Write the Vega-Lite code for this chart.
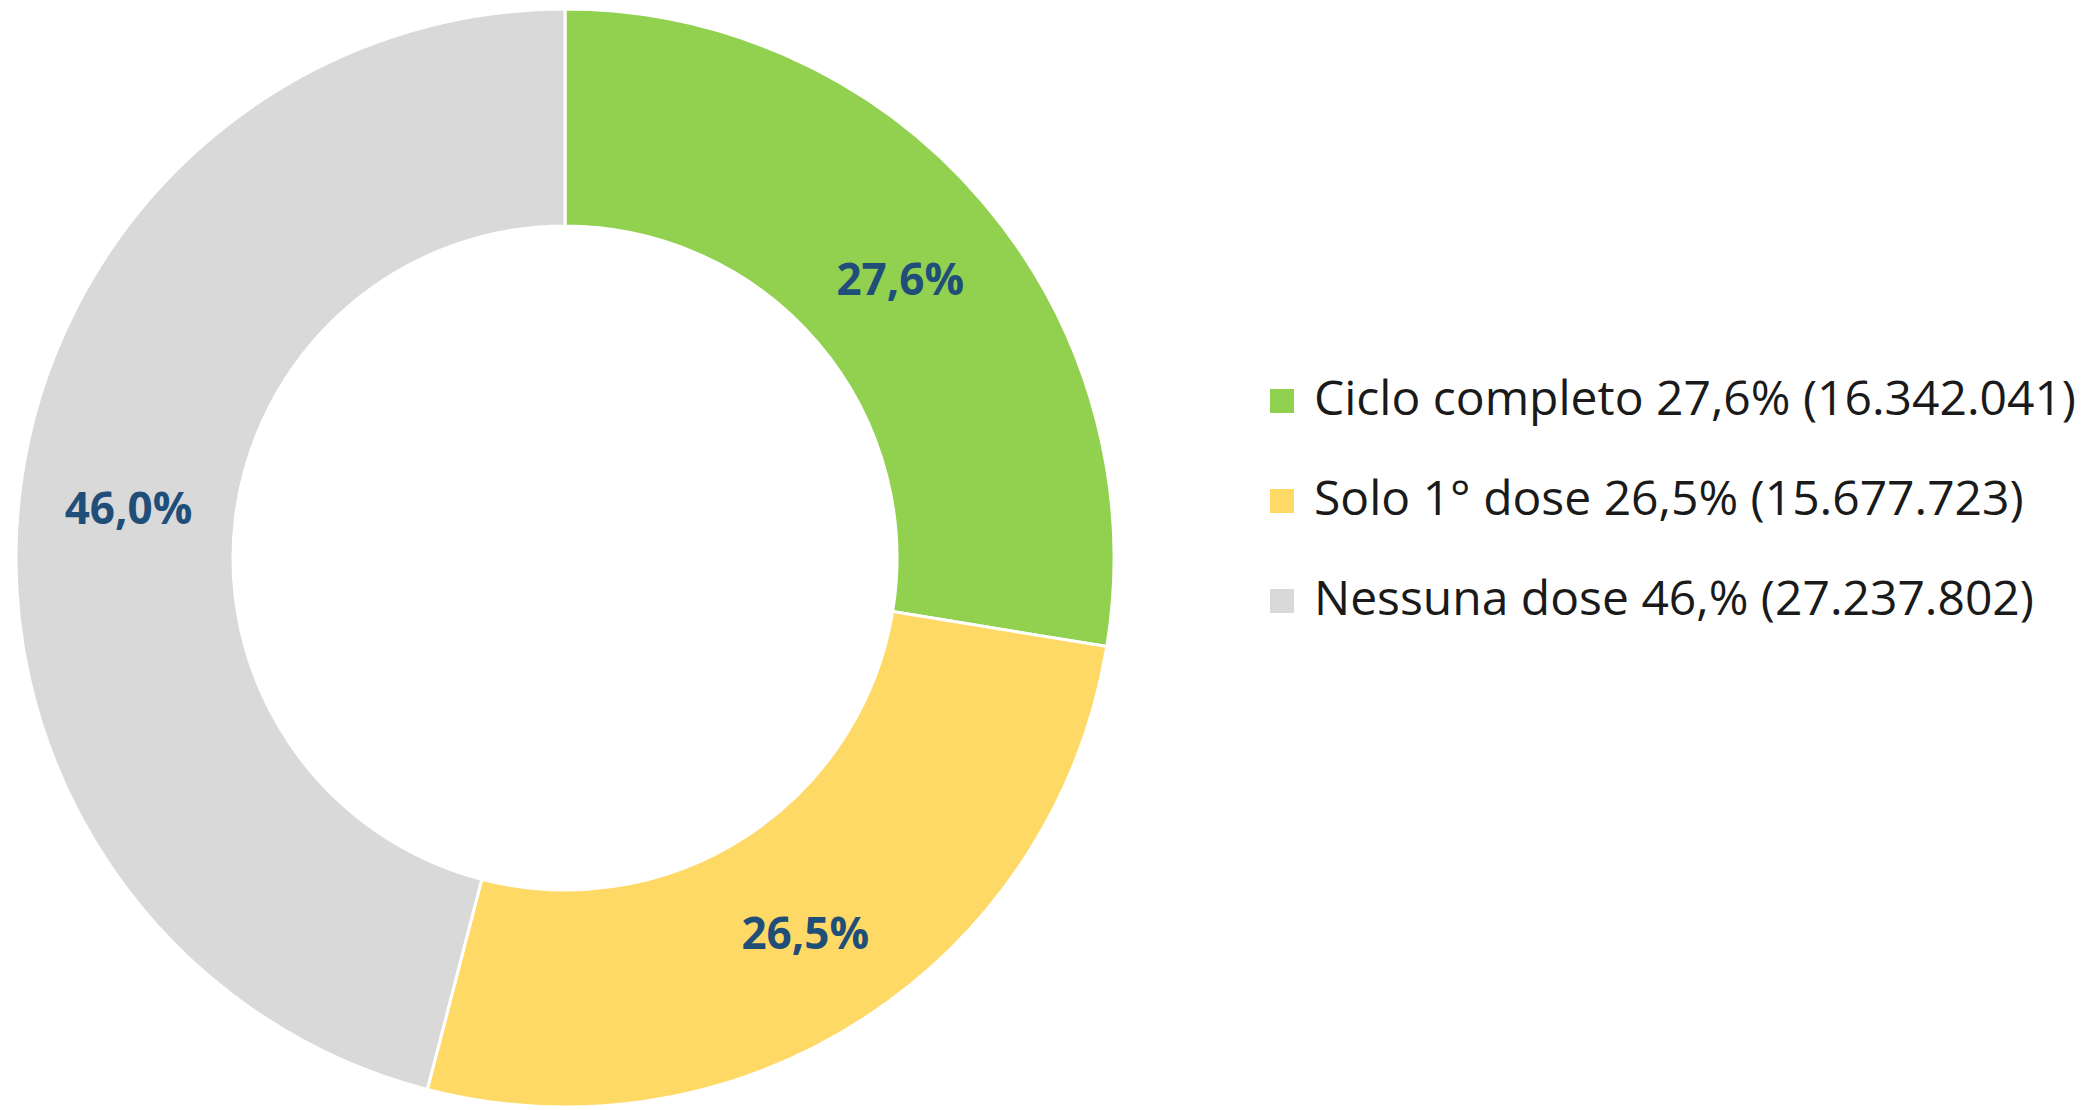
{
  "$schema": "https://vega.github.io/schema/vega-lite/v6.json",
  "width": 1130,
  "height": 1116,
  "autosize": {"type": "pad"},
  "padding": 0,
  "background": "white",
  "view": {"stroke": null},
  "data": {"values": [
    {"cat": "Ciclo completo 27,6% (16.342.041)", "value": 16342041, "ord": 1, "label": "27,6%"},
    {"cat": "Solo 1° dose 26,5% (15.677.723)", "value": 15677723, "ord": 2, "label": "26,5%"},
    {"cat": "Nessuna dose 46,% (27.237.802)", "value": 27237802, "ord": 3, "label": "46,0%"}
  ]},
  "encoding": {
    "theta": {"field": "value", "type": "quantitative", "stack": true},
    "order": {"field": "ord", "type": "quantitative"}
  },
  "layer": [
    {
      "mark": {"type": "arc", "outerRadius": 549, "innerRadius": 332, "stroke": "white", "strokeWidth": 3},
      "encoding": {
        "color": {
          "field": "cat", "type": "nominal",
          "scale": {
            "domain": ["Ciclo completo 27,6% (16.342.041)", "Solo 1° dose 26,5% (15.677.723)", "Nessuna dose 46,% (27.237.802)"],
            "range": ["#92D050", "#FFD966", "#D9D9D9"]
          },
          "legend": {
            "orient": "none", "legendX": 1258, "legendY": 377, "title": null,
            "symbolType": "square", "symbolSize": 576, "symbolStrokeWidth": 0,
            "labelFontSize": 48, "labelFont": "Open Sans", "labelColor": "#1a1a1a",
            "labelLimit": 0, "labelOffset": 8, "rowPadding": 52, "padding": 0
          }
        }
      }
    },
    {
      "mark": {"type": "text", "radius": 440, "dy": 9, "font": "Open Sans", "fontWeight": "bold", "fontSize": 44, "color": "#1F4E79"},
      "encoding": {"text": {"field": "label"}}
    }
  ]
}
